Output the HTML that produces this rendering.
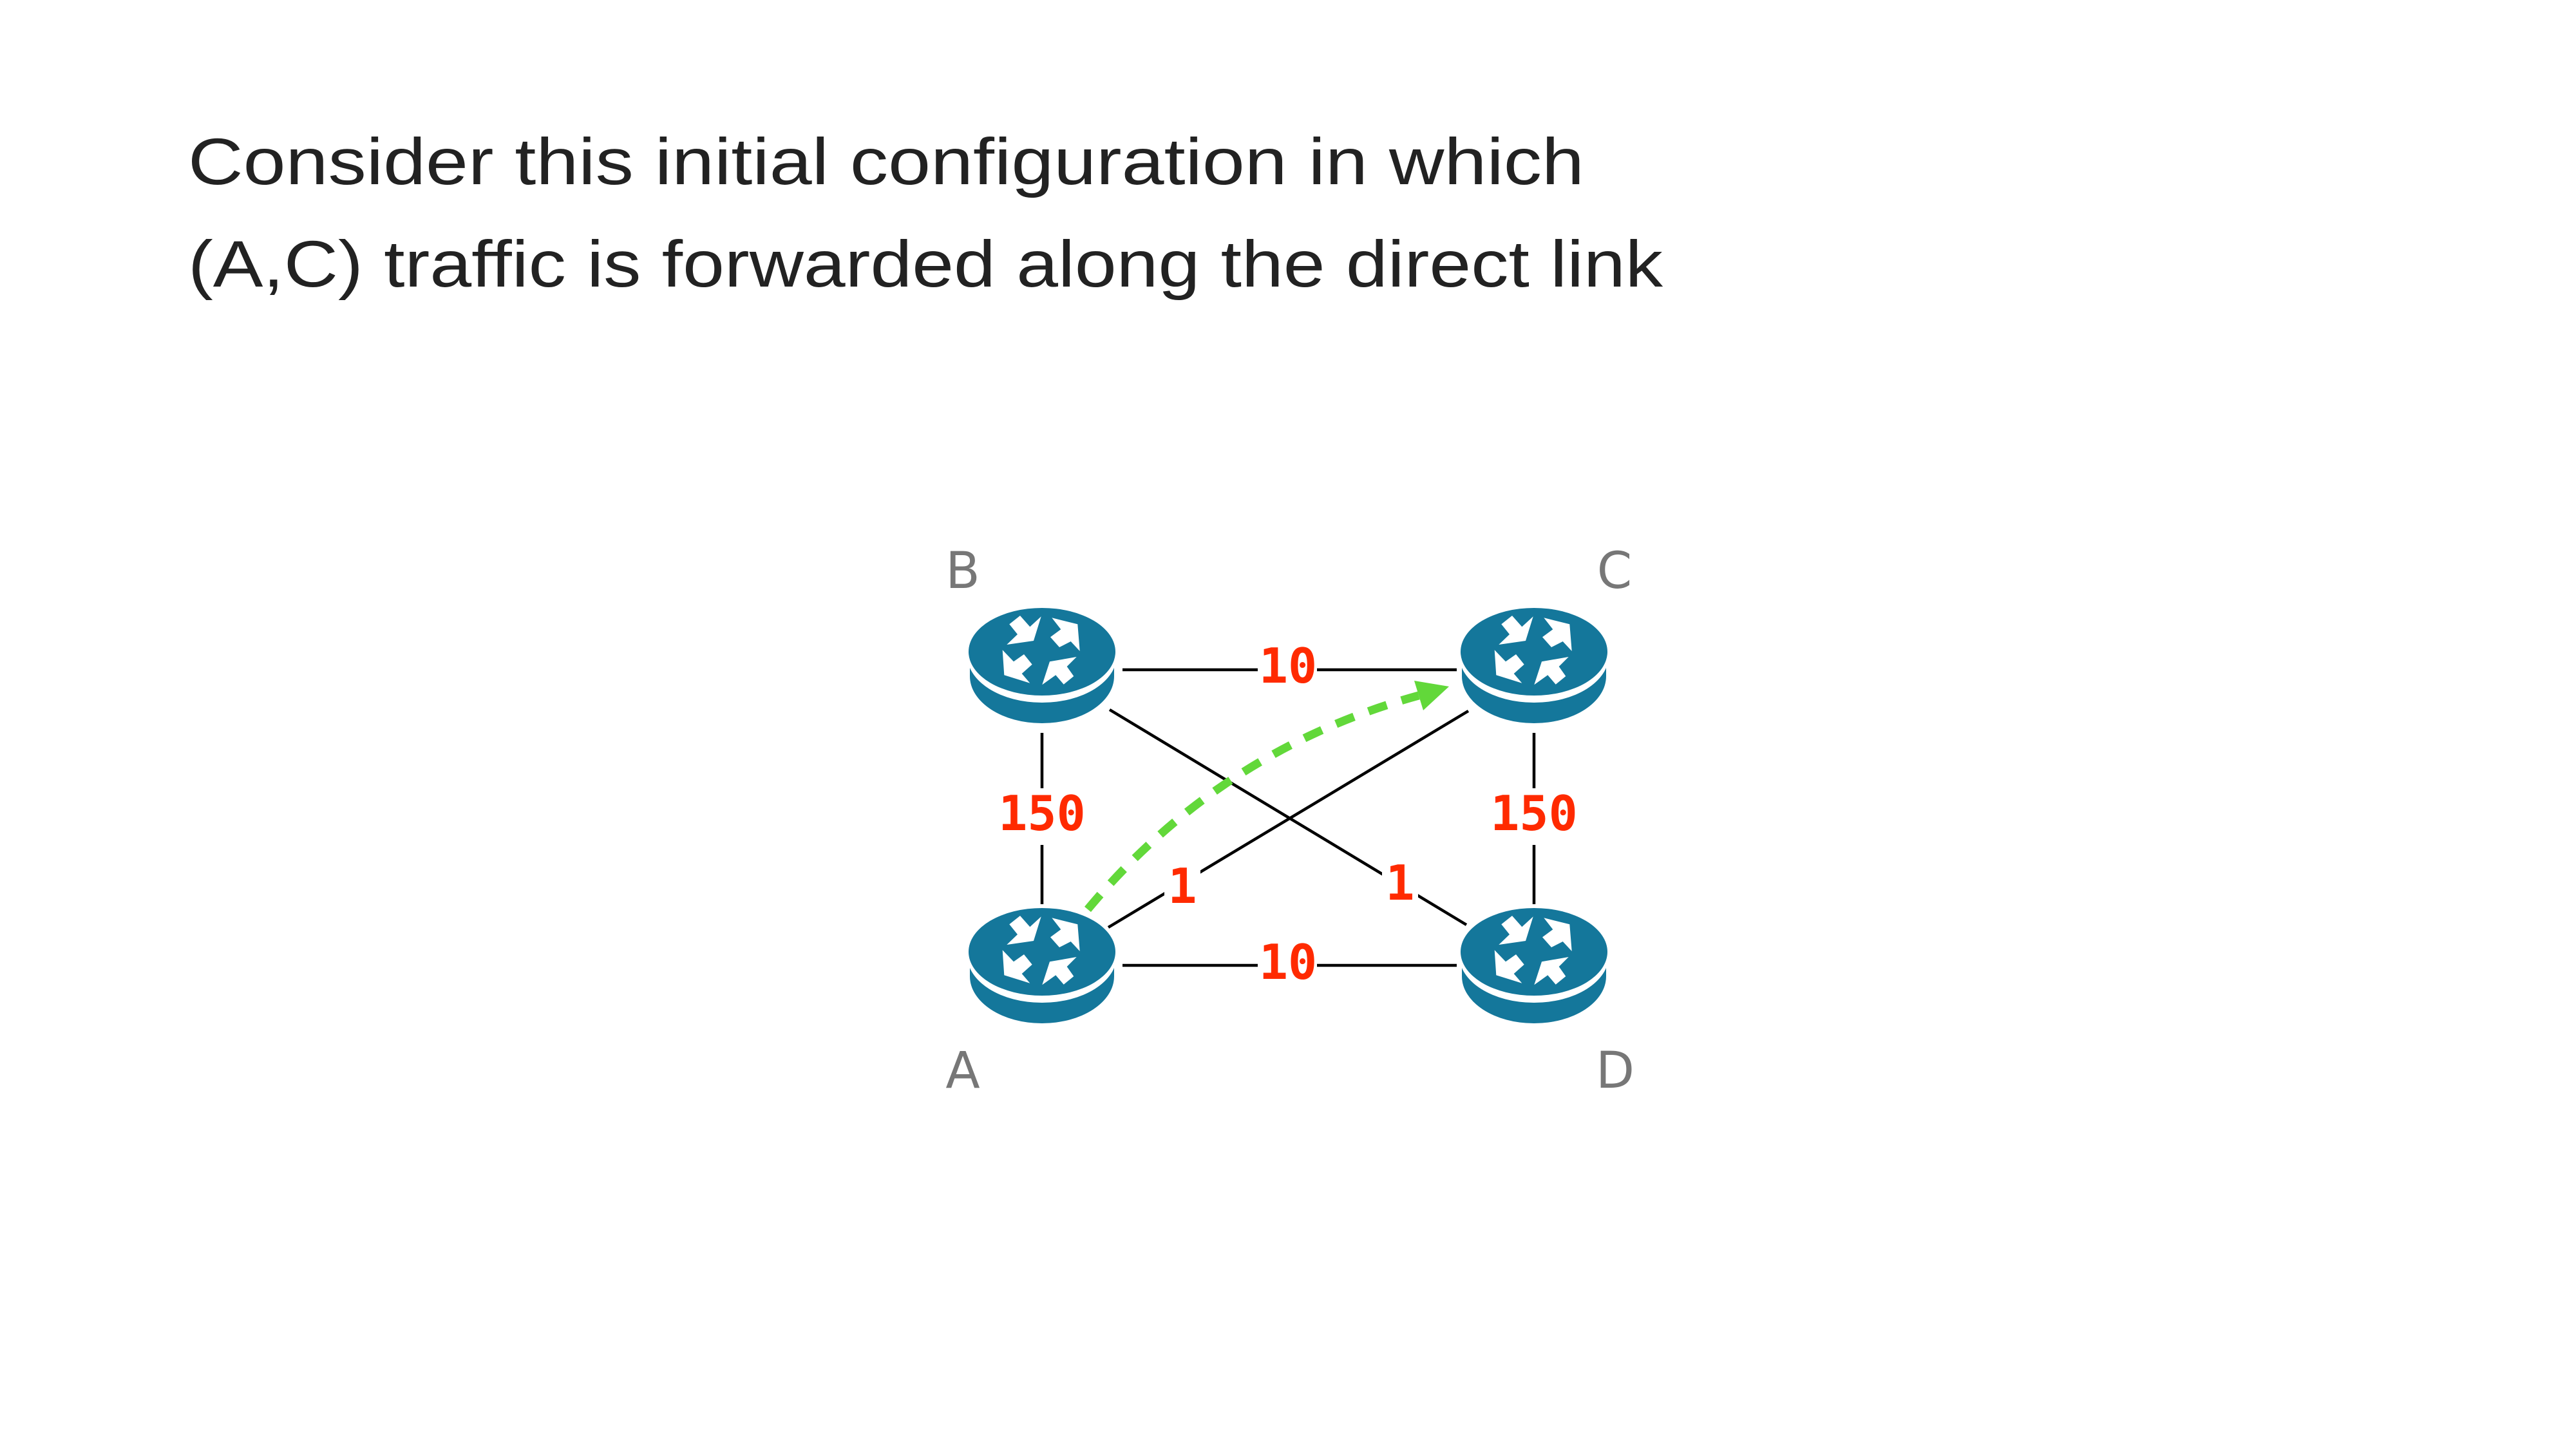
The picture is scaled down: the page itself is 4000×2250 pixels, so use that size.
<!DOCTYPE html>
<html><head><meta charset="utf-8"><style>
html,body{margin:0;padding:0;background:#fff;}
svg{display:block;}
</style></head><body>
<svg width="4000" height="2250" viewBox="0 0 4000 2250" xmlns="http://www.w3.org/2000/svg">
<defs>
<g id="r">
  <ellipse cx="0" cy="38" rx="112" ry="73" fill="#14779b"/>
  <rect x="-112" y="0" width="224" height="38" fill="#14779b"/>
  <ellipse cx="0" cy="6" rx="116" ry="73" fill="#fff"/>
  <ellipse cx="0" cy="0" rx="114" ry="68" fill="#14779b"/>
  <g fill="#fff">
    <polygon points="-50.7,-42.7 -34,-56 -18.7,-38.7 -1.3,-54.7 -13,-17 -54.7,-11 -38,-27"/>
    <polygon points="15.3,-52.7 55.3,-42.7 58.7,-1 44.7,-16 27,-7 13,-22.7 29.3,-34.7"/>
    <polygon points="-61.3,-2.7 -58.7,36.3 -18.7,48.7 -31.3,34 -15.3,19.7 -28,4 -44,15.3"/>
    <polygon points="0.3,51.3 12,15.3 53.7,8 38.7,23 49.3,38 33.7,50.7 21.3,36.3"/>
  </g>
</g>
</defs>
<text x="292" y="286" font-family="Liberation Sans, DejaVu Sans, sans-serif" font-size="102" fill="#222" textLength="2168" lengthAdjust="spacingAndGlyphs">Consider this initial configuration in which</text>
<text x="292" y="445" font-family="Liberation Sans, DejaVu Sans, sans-serif" font-size="102" fill="#222" textLength="2290" lengthAdjust="spacingAndGlyphs">(A,C) traffic is forwarded along the direct link</text>

<g stroke="#000" stroke-width="4.5" fill="none">
  <line x1="1743" y1="1040" x2="2262" y2="1040"/>
  <line x1="1743" y1="1499" x2="2262" y2="1499"/>
  <line x1="1618" y1="1138" x2="1618" y2="1404"/>
  <line x1="2382" y1="1138" x2="2382" y2="1404"/>
  <line x1="1723" y1="1102" x2="2277" y2="1436"/>
  <line x1="1721" y1="1440" x2="2280" y2="1104"/>
</g>

<use href="#r" x="1618" y="1012"/>
<use href="#r" x="2382" y="1012"/>
<use href="#r" x="1618" y="1478"/>
<use href="#r" x="2382" y="1478"/>

<path d="M1689,1412 Q1896,1164 2203,1080" stroke="#62d83a" stroke-width="13" fill="none" stroke-dasharray="30,24"/>
<polygon points="2250,1066 2196,1057 2210,1103" fill="#62d83a"/>

<g font-family="DejaVu Sans Mono, monospace" font-weight="bold" font-size="75" fill="#ff2a00" text-anchor="middle">
  <rect x="1953" y="1000" width="92" height="70" fill="#fff"/>
  <text x="2000" y="1060">10</text>
  <rect x="1953" y="1460" width="92" height="70" fill="#fff"/>
  <text x="2000" y="1520">10</text>
  <rect x="1550" y="1224" width="136" height="88" fill="#fff"/>
  <text x="1618" y="1289">150</text>
  <rect x="2314" y="1224" width="136" height="88" fill="#fff"/>
  <text x="2382" y="1289">150</text>
  <rect x="1808" y="1340" width="56" height="70" fill="#fff"/>
  <text x="1836" y="1402">1</text>
  <rect x="2146" y="1335" width="56" height="70" fill="#fff"/>
  <text x="2174" y="1397">1</text>
</g>

<g font-family="DejaVu Sans, Liberation Sans, sans-serif" font-size="78" fill="#777" text-anchor="middle">
  <text x="1495" y="913">B</text>
  <text x="2507" y="913">C</text>
  <text x="1495" y="1689">A</text>
  <text x="2508" y="1689">D</text>
</g>
</svg>
</body></html>
